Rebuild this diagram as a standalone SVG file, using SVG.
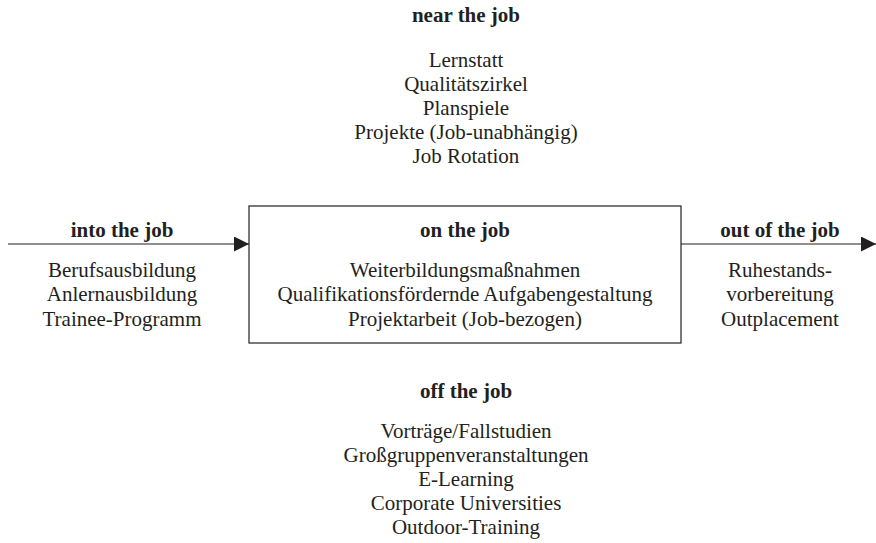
<svg xmlns="http://www.w3.org/2000/svg" width="876" height="543" viewBox="0 0 876 543">
  <style>
    text { font-family: "Liberation Serif", "Times New Roman", serif; font-size: 21px; fill: #231f20; text-anchor: middle; }
    .h { font-weight: bold; font-size: 21px; }
    .ln { stroke: #231f20; stroke-width: 1.2; fill: none; }
  </style>
  <defs>
    <marker id="arr" viewBox="0 0 10 10" refX="10" refY="5" markerWidth="15" markerHeight="15" markerUnits="userSpaceOnUse" orient="auto">
      <path d="M0,0 L10,5 L0,10 Z" fill="#231f20"/>
    </marker>
  </defs>
  <rect width="876" height="543" fill="#ffffff"/>

  <g id="connectors">
    <line class="ln" x1="8" y1="244" x2="249" y2="244" marker-end="url(#arr)"/>
    <line class="ln" x1="681" y1="244" x2="876" y2="244" marker-end="url(#arr)"/>
  </g>

  <g id="near">
    <text class="h" x="466" y="22">near the job</text>
    <text x="466" y="67">Lernstatt</text>
    <text x="466" y="91">Qualitätszirkel</text>
    <text x="466" y="115">Planspiele</text>
    <text x="466" y="139">Projekte (Job-unabhängig)</text>
    <text x="466" y="163">Job Rotation</text>
  </g>

  <g id="into">
    <text class="h" x="122" y="237">into the job</text>
    <text x="122" y="277">Berufsausbildung</text>
    <text x="122" y="301">Anlernausbildung</text>
    <text x="122" y="326">Trainee-Programm</text>
  </g>

  <g id="on">
    <rect x="249" y="206" width="432" height="137" fill="none" stroke="#231f20" stroke-width="1.2"/>
    <text class="h" x="465" y="237">on the job</text>
    <text x="465" y="277">Weiterbildungsmaßnahmen</text>
    <text x="465" y="301">Qualifikationsfördernde Aufgabengestaltung</text>
    <text x="465" y="326">Projektarbeit (Job-bezogen)</text>
  </g>

  <g id="out">
    <text class="h" x="780" y="237">out of the job</text>
    <text x="780" y="277">Ruhestands-</text>
    <text x="780" y="301">vorbereitung</text>
    <text x="780" y="326">Outplacement</text>
  </g>

  <g id="off">
    <text class="h" x="466" y="398">off the job</text>
    <text x="466" y="438">Vorträge/Fallstudien</text>
    <text x="466" y="462">Großgruppenveranstaltungen</text>
    <text x="466" y="486">E-Learning</text>
    <text x="466" y="510">Corporate Universities</text>
    <text x="466" y="534">Outdoor-Training</text>
  </g>
</svg>
